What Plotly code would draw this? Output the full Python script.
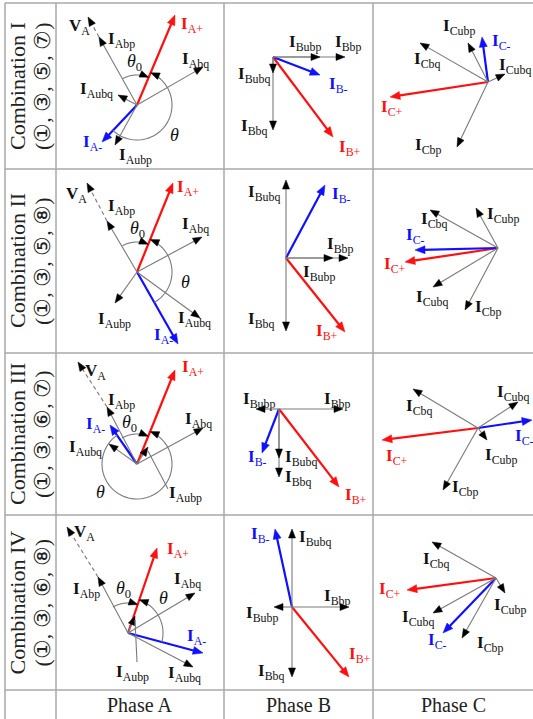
import math
import plotly.graph_objects as go

# ---------------- data ----------------
row_titles = ["Combination I", "Combination II", "Combination III", "Combination IV"]
row_switches = ["(①, ③, ⑤, ⑦)", "(①, ③, ⑤, ⑧)", "(①, ③, ⑥, ⑦)", "(①, ③, ⑥, ⑧)"]
col_titles = ["Phase A", "Phase B", "Phase C"]

# Phase A phasors (re, im) for each combination
A_names = ["A+", "A-", "Abp", "Abq", "Aubp", "Aubq", "VA"]
A1_re = [38, -35, -38, 66, -22, -19, -49]
A1_im = [90, -37, 68, 38, -40, 10, 88]
A2_re = [36, 41, -30, 65, -22, 63, -50]
A2_im = [89, -72, 51, 35, -31, -46, 89]
A3_re = [38, -27, -30, 66, 11, -28, -59]
A3_im = [94, 39, 57, 36, 17, 20, 102]
A4_re = [29, 75, -30, 67, 7, 65, -61]
A4_im = [85, -20, 56, 40, 17, -34, 106]

# Phase B phasors
B_names = ["B+", "B-", "Bbp", "Bbq", "Bubp", "Bubq"]
B1_re = [60, 47, 72, 0, 47, 0]
B1_im = [-80, -18, 0, -73, 0, -16]
B2_re = [59, 39, 62, 0, 47, 0]
B2_im = [-74, 73, 0, -73, 0, 78]
B3_re = [60, -17, 64, 0, -23, 0]
B3_im = [-78, -44, 0, -68, 0, -49]
B4_re = [57, -17, 57, 0, -18, 0]
B4_im = [-70, 78, 0, -70, 0, 78]

# Phase C phasors
C_names = ["C+", "C-", "Cbp", "Cbq", "Cubp", "Cubq"]
C1_re = [-98, -6, -31, -68, -20, 17]
C1_im = [-15, 45, -65, 39, 39, 8]
C2_re = [-93, -83, -33, -68, -22, -65]
C2_im = [-14, -2, -62, 38, 40, -39]
C3_re = [-96, 54, -35, -65, 9, 40]
C3_im = [-12, 8, -62, 39, -12, 26]
C4_re = [-89, -53, -34, -64, 9, -63]
C4_im = [-12, -55, -60, 36, -15, -35]

# ---------------- layout (pixel positions) ----------------
W, H = 533, 719
col_edges = [5, 56, 224, 373]
row_edges = [3, 169, 353, 515, 690]

A_origin = [(137, 105), (137, 272), (137, 464), (128, 633)]
B_origin = [(273, 57), (286, 258), (279, 409), (292, 607)]
C_origin = [(488, 82), (498, 248), (478, 428), (496, 578)]

A_lab = [
    [(179, 25), (81, 143), (106, 40), (180, 60), (117, 156), (78, 90), (67, 27)],
    [(175, 188), (152, 336), (106, 207), (180, 225), (96, 320), (176, 319), (64, 195)],
    [(180, 368), (84, 425), (106, 401), (183, 420), (167, 494), (67, 448), (83, 372)],
    [(165, 550), (185, 637), (71, 590), (172, 580), (114, 673), (166, 674), (72, 533)],
]
theta0_lab = [(134, 62), (137, 229), (129, 423), (123, 589)]
theta_lab = [(174, 135), (185, 282), (100, 492), (163, 598)]
A_leader = [None, None, (168, 489), (137, 662)]

B_lab = [
    [(337, 148), (327, 85), (333, 43), (239, 127), (287, 43), (236, 75)],
    [(314, 332), (330, 195), (325, 245), (246, 320), (301, 273), (246, 193)],
    [(343, 496), (246, 458), (322, 400), (283, 478), (241, 400), (283, 458)],
    [(347, 655), (249, 535), (322, 597), (256, 672), (244, 614), (297, 538)],
]
C_lab = [
    [(379, 108), (490, 42), (413, 146), (412, 60), (441, 27), (497, 66)],
    [(382, 265), (404, 236), (473, 308), (419, 220), (485, 215), (414, 298)],
    [(384, 457), (513, 437), (450, 488), (404, 407), (483, 456), (495, 393)],
    [(377, 590), (426, 641), (475, 644), (421, 560), (492, 606), (400, 618)],
]

RED = "#ff1010"
BLUE = "#1010ff"
GRAY = "#7a7a7a"
GRID = "#a8a8a8"
FONT = "Liberation Serif"

shapes = []
annotations = []


def add_head(tx, ty, ux, uy, L, Wd, color):
    bx, by = tx - L * ux, ty - L * uy
    px, py = -uy, ux
    path = (f"M {tx:.2f},{ty:.2f} L {bx + Wd / 2 * px:.2f},{by + Wd / 2 * py:.2f} "
            f"L {bx - Wd / 2 * px:.2f},{by - Wd / 2 * py:.2f} Z")
    shapes.append(dict(type="path", path=path, xref="x", yref="y",
                       fillcolor=color, line=dict(color=color, width=0.5)))


def add_line(x0, y0, x1, y1, color, width, dash="solid"):
    shapes.append(dict(type="line", x0=x0, y0=y0, x1=x1, y1=y1, xref="x", yref="y",
                       line=dict(color=color, width=width, dash=dash)))


def add_text(x, y, text, color, size=17, xanchor="left", angle=0):
    annotations.append(dict(x=x, y=y, xref="x", yref="y", text=text, showarrow=False,
                            xanchor=xanchor, yanchor="middle", textangle=angle,
                            font=dict(family=FONT, size=size, color=color)))


def label_text(name):
    if name == "VA":
        return "<b>V</b><sub>A</sub>"
    return "<b>I</b><sub>" + name + "</sub>"


def name_color(name):
    if name.endswith("+"):
        return RED
    if name.endswith("-"):
        return BLUE
    return "#111111"


def draw_panel(origin, names, re, im, labs, leader=None):
    ox, oy = origin
    tips = {}
    for n, r, i in zip(names, re, im):
        tips[n] = (ox + r, oy - i)
    for n, r, i, lab in zip(names, re, im, labs):
        tx, ty = tips[n]
        sx, sy = ox, oy
        dash = "solid"
        if n == "VA":
            sx, sy = tips["Abp"]
            dash = "4px,3px"
        dx, dy = tx - sx, ty - sy
        ln = math.hypot(dx, dy)
        ux, uy = dx / ln, dy / ln
        col = name_color(n)
        if col in (RED, BLUE):
            L, Wd = 10, 8
            add_line(sx, sy, tx - 0.7 * L * ux, ty - 0.7 * L * uy, col, 2.2)
            add_head(tx, ty, ux, uy, L, Wd, col)
        else:
            L, Wd = 9, 7
            add_line(sx, sy, tx - 0.7 * L * ux, ty - 0.7 * L * uy, GRAY, 1.1, dash)
            add_head(tx, ty, ux, uy, L, Wd, "#000000")
        add_text(lab[0], lab[1], label_text(n), col)
    if leader is not None:
        tx, ty = tips["Aubp"]
        add_line(leader[0], leader[1], tx, ty + 4, GRAY, 1.1)
    return tips


def draw_arc(origin, r, a0, a1, ccw):
    ox, oy = origin
    if ccw:
        while a1 <= a0:
            a1 += 360
    else:
        while a1 >= a0:
            a1 -= 360
    n = 60
    pts = []
    for k in range(n + 1):
        a = math.radians(a0 + (a1 - a0) * k / n)
        pts.append((ox + r * math.cos(a), oy - r * math.sin(a)))
    path = "M " + " L ".join(f"{x:.2f},{y:.2f}" for x, y in pts[:-2])
    shapes.append(dict(type="path", path=path, xref="x", yref="y",
                       line=dict(color=GRAY, width=1.1)))
    a = math.radians(a1)
    if ccw:
        ux, uy = -math.sin(a), -math.cos(a)
    else:
        ux, uy = math.sin(a), math.cos(a)
    add_head(pts[-1][0], pts[-1][1], ux, uy, 9, 7, "#000000")


def ang(re, im):
    return math.degrees(math.atan2(im, re))


# grid
for x in col_edges:
    add_line(x, row_edges[0], x, H, GRID, 1.5)
for y in row_edges:
    add_line(col_edges[0], y, W, y, GRID, 1.5)

A_re = [A1_re, A2_re, A3_re, A4_re]
A_im = [A1_im, A2_im, A3_im, A4_im]
B_re = [B1_re, B2_re, B3_re, B4_re]
B_im = [B1_im, B2_im, B3_im, B4_im]
C_re = [C1_re, C2_re, C3_re, C4_re]
C_im = [C1_im, C2_im, C3_im, C4_im]

for k in range(4):
    re, im = A_re[k], A_im[k]
    draw_panel(A_origin[k], A_names, re, im, A_lab[k], A_leader[k])
    a_plus = ang(re[0], im[0])
    a_minus = ang(re[1], im[1])
    a_va = ang(re[6], im[6])
    draw_arc(A_origin[k], 30, a_va, a_plus, ccw=False)
    draw_arc(A_origin[k], 35, a_minus, a_plus, ccw=True)
    add_text(theta0_lab[k][0], theta0_lab[k][1], "<i>θ</i><sub>0</sub>", "#111111", 18, "center")
    add_text(theta_lab[k][0], theta_lab[k][1], "<i>θ</i>", "#111111", 18, "center")
    draw_panel(B_origin[k], B_names, B_re[k], B_im[k], B_lab[k])
    draw_panel(C_origin[k], C_names, C_re[k], C_im[k], C_lab[k])

    yc = (row_edges[k] + row_edges[k + 1]) / 2
    add_text(17, yc, row_titles[k], "#222222", 22, "center", -90)
    add_text(42, yc, row_switches[k], "#222222", 22, "center", -90)

for j, t in enumerate(col_titles):
    xc = (col_edges[j + 1] + (col_edges[j + 2] if j + 2 < len(col_edges) else W)) / 2
    add_text(xc, 705, t, "#222222", 20, "center")

fig = go.Figure()
fig.add_trace(go.Scatter(x=[0, W], y=[0, H], mode="markers", marker=dict(opacity=0),
                         hoverinfo="skip", showlegend=False))
fig.update_layout(
    width=W, height=H, margin=dict(l=0, r=0, t=0, b=0),
    paper_bgcolor="white", plot_bgcolor="white",
    xaxis=dict(range=[0, W], visible=False, fixedrange=True),
    yaxis=dict(range=[H, 0], visible=False, fixedrange=True),
    shapes=shapes, annotations=annotations, showlegend=False,
)
fig.write_html("out.html")
